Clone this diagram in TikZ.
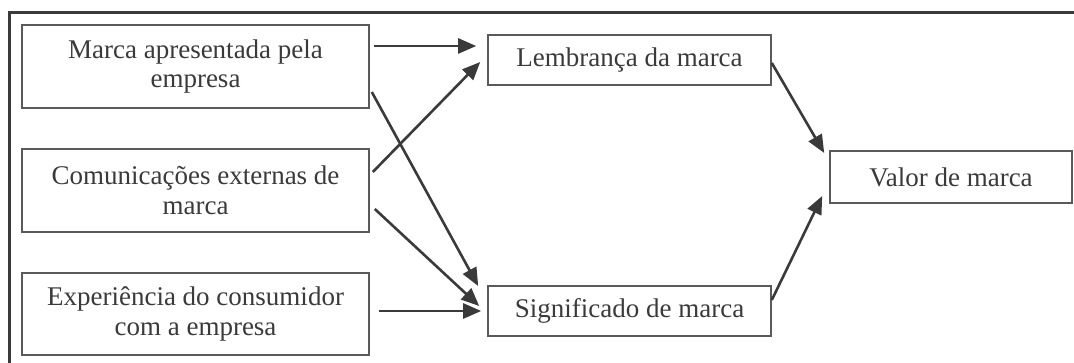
\documentclass[tikz,border=0pt]{standalone}
\usepackage{fontspec}
\setmainfont{Liberation Serif}
\usetikzlibrary{arrows.meta}
\definecolor{ink}{HTML}{3A3A3A}
\definecolor{boxline}{HTML}{5A5A5A}
\begin{document}
\begin{tikzpicture}[x=1pt,y=-1pt,
  box/.style={draw=boxline,line width=1.6pt,text=ink,align=center,inner sep=0pt,
    font=\fontsize{27}{29.5}\selectfont},
  arr/.style={draw=ink,line width=2.6pt,-{Triangle[length=18pt,width=15pt]}},
  frame/.style={draw=ink,line width=3pt}]
\useasboundingbox (0,0) rectangle (1074,363);
\draw[frame] (9.5,364) -- (9.5,12.5) -- (1076,12.5);
% source boxes
\node[box,minimum width=347pt,minimum height=83pt] (A) at (195.5,66.5) {Marca apresentada pela\\empresa};
\node[box,minimum width=347pt,minimum height=83pt] (B) at (195.5,190.5) {Comunicações externas de\\marca};
\node[box,minimum width=347pt,minimum height=82pt] (C) at (195.5,314) {Experiência do consumidor\\com a empresa};
% middle boxes
\node[box,minimum width=283pt,minimum height=50pt] (L) at (629.5,60) {Lembrança da marca};
\node[box,minimum width=283pt,minimum height=50pt] (S) at (629.5,311) {Significado de marca};
% result box
\node[box,minimum width=242pt,minimum height=52pt] (V) at (951,177) {Valor de marca};
% connectors
\draw[arr] ([shift={(4,-20.5)}]A.east) -- ([shift={(-11,-14)}]L.west);
\draw[arr] ([shift={(2,25.5)}]A.east) -- ([shift={(-9,-25)}]S.west);
\draw[arr] ([shift={(3,-18.5)}]B.east) -- ([shift={(-7,2)}]L.west);
\draw[arr] ([shift={(5,18.5)}]B.east) -- ([shift={(-8,-5)}]S.west);
\draw[arr] ([shift={(9,-3)}]C.east) -- ([shift={(-6,0)}]S.west);
\draw[arr] ([shift={(0,3)}]L.east) -- ([shift={(-5,-24)}]V.west);
\draw[arr] ([shift={(0,-11)}]S.east) -- ([shift={(-7,19)}]V.west);
\end{tikzpicture}
\end{document}
